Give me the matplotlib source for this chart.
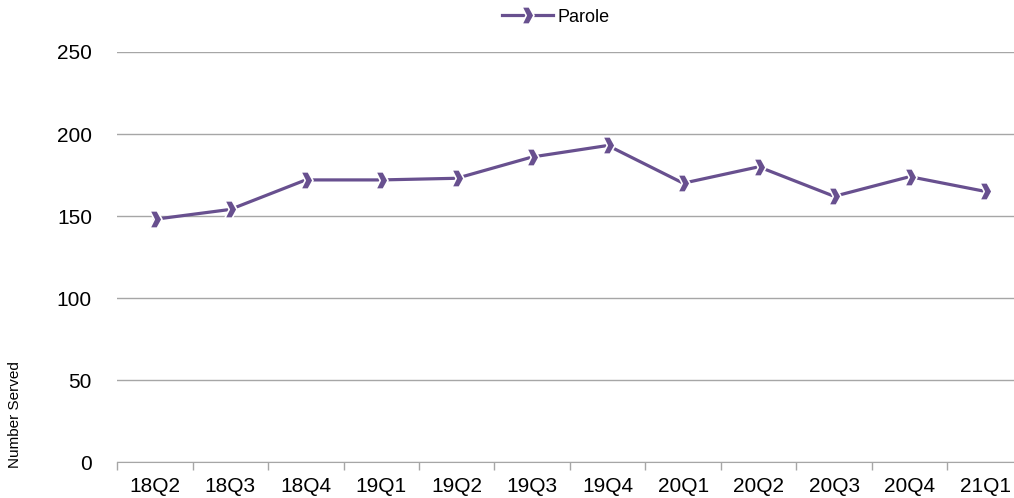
import matplotlib.pyplot as plt
import numpy as np
from matplotlib.path import Path

plt.rcParams['font.family'] = ['Liberation Sans', 'DejaVu Sans']

quarters = ['18Q2', '18Q3', '18Q4', '19Q1', '19Q2', '19Q3',
            '19Q4', '20Q1', '20Q2', '20Q3', '20Q4', '21Q1']
parole = [148, 154, 172, 172, 173, 186, 193, 170, 180, 162, 174, 165]
yticks = [0, 50, 100, 150, 200, 250]

purple = '#68508f'

# chevron marker pointing right
chevron = Path([(-0.65, 1.0), (0.2, 1.0), (0.75, 0.0), (0.2, -1.0),
                (-0.65, -1.0), (-0.15, 0.0), (-0.65, 1.0)],
               [Path.MOVETO] + [Path.LINETO] * 5 + [Path.CLOSEPOLY])

fig = plt.figure(figsize=(10.14, 4.98), dpi=100)
ax = fig.add_axes([117 / 1014, 36 / 498, 12 * 75.5 / 1014, 410 / 498])

x = np.arange(len(quarters))
ax.plot(x, parole, color=purple, lw=2.3, marker=chevron, markersize=12.5,
        markerfacecolor=purple, markeredgecolor='white', markeredgewidth=1.2,
        label='Parole', zorder=3)

ax.set_xlim(-0.5, len(quarters) - 0.5)
ax.set_ylim(0, 250)
ax.set_yticks(yticks)
ax.yaxis.grid(True, color='#a6a6a6', lw=1)
ax.set_axisbelow(True)

ax.set_xticks(x)
ax.set_xticklabels(quarters)
ax.set_xticks(np.arange(len(quarters)) - 0.5, minor=True)
ax.tick_params(axis='x', which='major', length=0, pad=11, labelsize=15)
ax.tick_params(axis='x', which='minor', length=6, color='#a6a6a6', width=1)
ax.tick_params(axis='y', length=0, pad=18, labelsize=15)

for s in ['top', 'right', 'left']:
    ax.spines[s].set_visible(False)
ax.spines['bottom'].set_color('#a6a6a6')

fig.text(15 / 1014, 1 - 415 / 498, 'Number Served', rotation=90,
         ha='center', va='center', fontsize=11)

fig.legend(loc='center', bbox_to_anchor=(556 / 1014, 1 - 17 / 498),
           frameon=False, fontsize=13, handlelength=2.8, handletextpad=0.3)

fig.savefig('out.png', dpi=100)
